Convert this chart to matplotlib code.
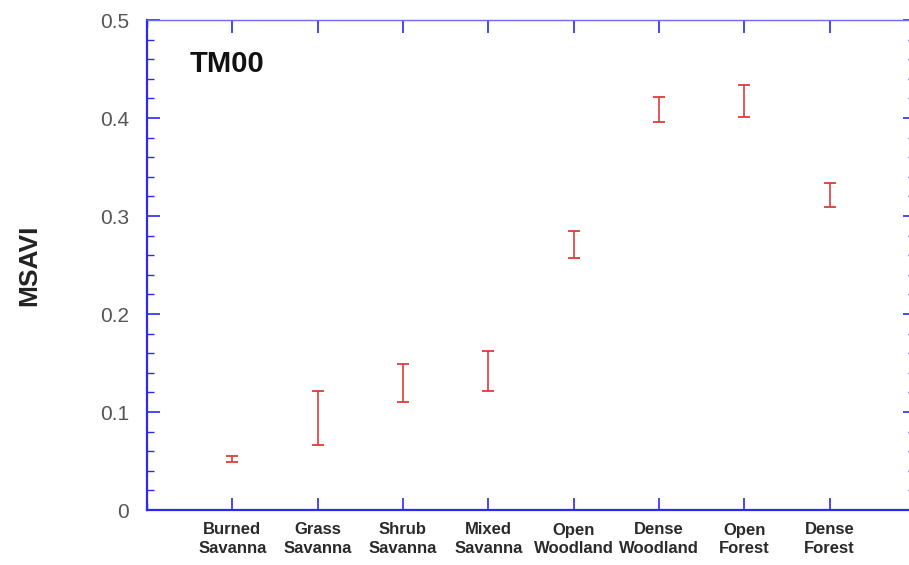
import matplotlib
matplotlib.use("Agg")
from matplotlib import pyplot as plt
from matplotlib.ticker import MultipleLocator
import numpy as np

categories = ["Burned\nSavanna", "Grass\nSavanna", "Shrub\nSavanna", "Mixed\nSavanna",
              "Open\nWoodland", "Dense\nWoodland", "Open\nForest", "Dense\nForest"]
low = [0.049, 0.066, 0.110, 0.121, 0.257, 0.396, 0.401, 0.309]
high = [0.055, 0.121, 0.149, 0.162, 0.285, 0.421, 0.434, 0.334]
panel = "TM00"

plt.rcParams['font.family'] = ['Liberation Sans', 'DejaVu Sans']

fig = plt.figure(figsize=(9.09, 5.65), dpi=100)
# axes run a little past the right edge like the scanned original
ax = fig.add_axes([147/909, 1-510/565, 768/909, 490/565])

low = np.array(low)
high = np.array(high)
x = np.arange(1, len(categories)+1)
ax.errorbar(x, (low+high)/2, yerr=(high-low)/2, fmt='none',
            ecolor='#e03a3a', elinewidth=1.2, capsize=4.5, capthick=1.3)

ax.set_xlim(0, 9)
ax.set_ylim(0, 0.5)
ax.set_xticks(x)
ax.set_xticklabels(categories, fontsize=12, fontweight='bold', color='#2a2a2a',
                   linespacing=1.3)
ax.xaxis.set_minor_locator(MultipleLocator(1))
ax.set_yticks([0, 0.1, 0.2, 0.3, 0.4, 0.5])
ax.set_yticklabels(["0", "0.1", "0.2", "0.3", "0.4", "0.5"], fontsize=15, color='#555555')
ax.yaxis.set_minor_locator(MultipleLocator(0.02))

blue = '#2a2af0'
ax.tick_params(which='both', direction='in', top=True, right=True, color=blue)
ax.tick_params(which='major', length=9, width=1.2)
ax.tick_params(which='minor', length=5, width=1.0)
ax.tick_params(axis='y', pad=13)
ax.tick_params(axis='x', pad=9)

for side in ['left', 'bottom', 'right']:
    ax.spines[side].set_color(blue)
    ax.spines[side].set_linewidth(1.6)
ax.spines['top'].set_color('#6a6aff')
ax.spines['top'].set_linewidth(1.0)

ax.set_ylabel("MSAVI", fontsize=19, fontweight='bold', color='#222222', labelpad=42)
ax.text(0.5, 0.455, panel, fontsize=21, fontweight='bold', color='#111111',
        va='center', ha='left')

fig.savefig("out.png", dpi=100)
